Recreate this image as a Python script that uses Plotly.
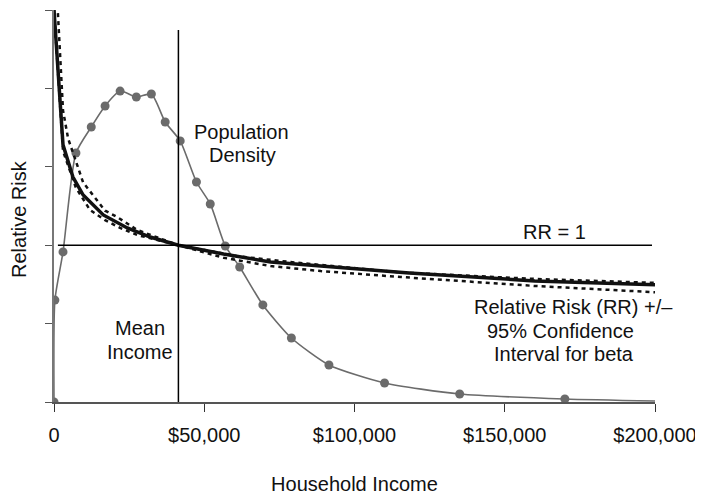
import plotly.graph_objects as go

# ---- data ----
# Population density (plotted in RR units of the shared axis)
density_x = [0, 300, 3000, 7300, 12400, 17000, 22000, 27400, 32400, 37000, 42000,
             47400, 52000, 57000, 61800, 69500, 79000, 91500, 110000, 135000, 170000, 200000]
density_y = [0.0, 0.65, 0.957, 1.588, 1.754, 1.888, 1.983, 1.945, 1.964, 1.786, 1.665,
             1.403, 1.263, 0.995, 0.861, 0.619, 0.408, 0.236, 0.121, 0.051, 0.019, 0.006]
density_marked = 21  # number of points drawn with a marker

# Relative risk curve
rr_x = [0, 3000, 6300, 9700, 16400, 24400, 32000, 41400, 56400, 72100, 88800,
        105500, 118200, 160000, 200000]
rr_y = [2.50, 1.64, 1.435, 1.32, 1.193, 1.11, 1.052, 1.0, 0.944, 0.893, 0.867,
        0.842, 0.823, 0.772, 0.748]

# 95% confidence bounds for beta
ci_hi_x = [1300, 3000, 4700, 9700, 17000, 21000, 27700, 41400, 56400, 72100, 88800,
           115500, 160000, 200000]
ci_hi_y = [2.48, 1.86, 1.68, 1.40, 1.22, 1.18, 1.097, 1.0, 0.92, 0.867, 0.835,
           0.797, 0.74, 0.70]
ci_lo_x = [0, 3000, 7300, 12000, 17000, 22000, 27700, 41400, 61000, 80000,
           115500, 160000, 200000]
ci_lo_y = [2.50, 1.60, 1.366, 1.224, 1.16, 1.11, 1.065, 1.0, 0.93, 0.89,
           0.826, 0.785, 0.76]

mean_income = 41400
rr_reference = 1.0

x_ticks = [0, 50000, 100000, 150000, 200000]
x_tick_labels = ["0", "$50,000", "$100,000", "$150,000", "$200,000"]
y_ticks = [0, 0.5, 1.0, 1.5, 2.0, 2.5]

FONT = "Liberation Sans, Arial, Helvetica, sans-serif"

fig = go.Figure()

# density line (smoothed) and its markers
fig.add_trace(go.Scatter(
    x=density_x, y=density_y, mode="lines",
    line=dict(color="#6b6b6b", width=1.6, shape="spline", smoothing=0.6),
    hoverinfo="skip", showlegend=False))
fig.add_trace(go.Scatter(
    x=density_x[:density_marked], y=density_y[:density_marked], mode="markers",
    marker=dict(color="#6b6b6b", size=9),
    name="Population Density", showlegend=False))

# confidence interval lines
fig.add_trace(go.Scatter(
    x=ci_hi_x, y=ci_hi_y, mode="lines",
    line=dict(color="#111111", width=2.5, dash="4px,4px"),
    name="95% CI (upper beta)", showlegend=False))
fig.add_trace(go.Scatter(
    x=ci_lo_x, y=ci_lo_y, mode="lines",
    line=dict(color="#111111", width=2.5, dash="4px,4px"),
    name="95% CI (lower beta)", showlegend=False))

# relative risk curve
fig.add_trace(go.Scatter(
    x=rr_x, y=rr_y, mode="lines",
    line=dict(color="#111111", width=3.5),
    name="Relative Risk", showlegend=False))

# reference lines
fig.add_shape(type="line", xref="x", yref="y", x0=1300, x1=199000,
              y0=rr_reference, y1=rr_reference, line=dict(color="black", width=1.5))
fig.add_shape(type="line", xref="x", yref="y", x0=mean_income, x1=mean_income,
              y0=0, y1=2.372, line=dict(color="black", width=1.5))

# text labels  (x data, y data); page pixel -> data
def px_to_data(px, py):
    return (px - 54) / 601 * 200000, (402 - py) / 392 * 2.5

labels = [
    ("Population", 241, 132),
    ("Density", 242, 155),
    ("RR = 1", 554, 232),
    ("Relative Risk (RR) +/–", 573, 307),
    ("95% Confidence", 560, 331),
    ("Interval for beta", 564, 354),
    ("Mean", 140, 328),
    ("Income", 140, 352),
]
for txt, px, py in labels:
    xd, yd = px_to_data(px, py)
    fig.add_annotation(x=xd, y=yd, xref="x", yref="y", text=txt, showarrow=False,
                       font=dict(family=FONT, size=20, color="#111111"),
                       xanchor="center", yanchor="middle")

# y-axis title placed where the reference has it (paper = plot-area fraction)
fig.add_annotation(x=(19 - 54) / 601, y=(402 - 219) / 392, xref="paper", yref="paper",
                   text="Relative Risk", textangle=-90, showarrow=False,
                   font=dict(family=FONT, size=20, color="#111111"),
                   xanchor="center", yanchor="middle")

# the page body adds an 8px offset; size/margins compensate for it
fig.update_layout(
    width=695, height=487,
    margin=dict(l=46, r=48, t=2, b=93, autoexpand=False),
    plot_bgcolor="white", paper_bgcolor="white",
    font=dict(family=FONT, size=20, color="#111111"),
    showlegend=False,
    xaxis=dict(range=[0, 200000], tickvals=x_ticks, ticktext=x_tick_labels,
               showgrid=False, zeroline=False, showline=True, linecolor="#555555",
               linewidth=1.5, ticks="outside", ticklen=8, tickcolor="#333333",
               ticklabelstandoff=6, automargin=False,
               tickfont=dict(family=FONT, size=20, color="#111111"),
               title=dict(text="Household Income", standoff=34,
                          font=dict(family=FONT, size=20, color="#111111"))),
    yaxis=dict(range=[0, 2.5], tickvals=y_ticks, showticklabels=False,
               showgrid=False, zeroline=False, showline=True, linecolor="#777777",
               linewidth=1.5, ticks="outside", ticklen=7, tickcolor="#555555",
               automargin=False),
)

fig.write_html("out.html")
